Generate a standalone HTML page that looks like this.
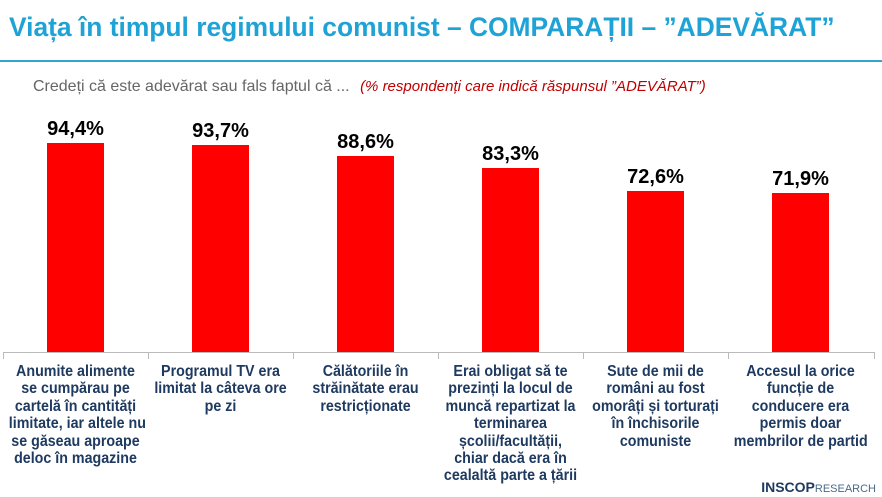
<!DOCTYPE html>
<html><head><meta charset="utf-8"><style>
body{margin:0;width:882px;height:497px;background:#fff;position:relative;overflow:hidden;font-family:"Liberation Sans",sans-serif}
.t{position:absolute;left:9px;top:12px;font-size:26.4px;font-weight:bold;color:#1fa3d6;white-space:nowrap}
.ln{position:absolute;left:0;top:60px;width:882px;height:2px;background:#35a5cc}
.s{position:absolute;left:33px;top:78px;font-size:16px;color:#666;white-space:nowrap}
.s i{color:#c00000;font-size:15px;margin-left:6px}
.ax{position:absolute;left:3px;top:352px;width:872px;height:1px;background:#bbb}
.tk{position:absolute;top:352px;width:1px;height:7px;background:#bbb}
.b{position:absolute;width:57px;background:#ff0000}
.v{position:absolute;width:145px;text-align:center;font-size:20px;font-weight:bold;color:#000}
.l{position:absolute;top:363px;width:145px;text-align:center;font-size:15.5px;font-weight:bold;color:#1f3a60;line-height:17.4px;white-space:nowrap;transform:scaleX(0.92);transform-origin:center top}
.lg{position:absolute;right:6px;top:479px;font-size:14px;color:#1f3a60;font-weight:bold}
.lg span{font-weight:normal;font-size:11px;color:#4a6a8a}
</style></head><body>
<div class="t">Viața în timpul regimului comunist – COMPARAȚII – ”ADEVĂRAT”</div>
<div class="ln"></div>
<div class="s">Credeți că este adevărat sau fals faptul că ... <i>(% respondenți care indică răspunsul ”ADEVĂRAT”)</i></div>
<div class="ax"></div>
<div class="tk" style="left:3px"></div><div class="tk" style="left:148px"></div><div class="tk" style="left:293px"></div><div class="tk" style="left:438px"></div><div class="tk" style="left:583px"></div><div class="tk" style="left:728px"></div><div class="tk" style="left:874px"></div>

<div class="b" style="left:47px;top:143px;height:209px"></div>
<div class="b" style="left:192px;top:145px;height:207px"></div>
<div class="b" style="left:337px;top:156px;height:196px"></div>
<div class="b" style="left:482px;top:168px;height:184px"></div>
<div class="b" style="left:627px;top:191px;height:161px"></div>
<div class="b" style="left:772px;top:193px;height:159px"></div>

<div class="v" style="left:3px;top:118px">94,4%</div>
<div class="v" style="left:148px;top:120px">93,7%</div>
<div class="v" style="left:293px;top:131px">88,6%</div>
<div class="v" style="left:438px;top:143px">83,3%</div>
<div class="v" style="left:583px;top:166px">72,6%</div>
<div class="v" style="left:728px;top:168px">71,9%</div>

<div class="l" style="left:3px">Anumite alimente<br>se cumpărau pe<br>cartelă în cantități<br>limitate, iar altele nu<br>se găseau aproape<br>deloc în magazine</div>
<div class="l" style="left:148px">Programul TV era<br>limitat la câteva ore<br>pe zi</div>
<div class="l" style="left:293px">Călătoriile în<br>străinătate erau<br>restricționate</div>
<div class="l" style="left:438px">Erai obligat să te<br>prezinți la locul de<br>muncă repartizat la<br>terminarea<br>școlii/facultății,<br>chiar dacă era în<br>cealaltă parte a țării</div>
<div class="l" style="left:583px">Sute de mii de<br>români au fost<br>omorâți și torturați<br>în închisorile<br>comuniste</div>
<div class="l" style="left:728px">Accesul la orice<br>funcție de<br>conducere era<br>permis doar<br>membrilor de partid</div>
<div class="lg">INSCOP<span>RESEARCH</span></div>
</body></html>
